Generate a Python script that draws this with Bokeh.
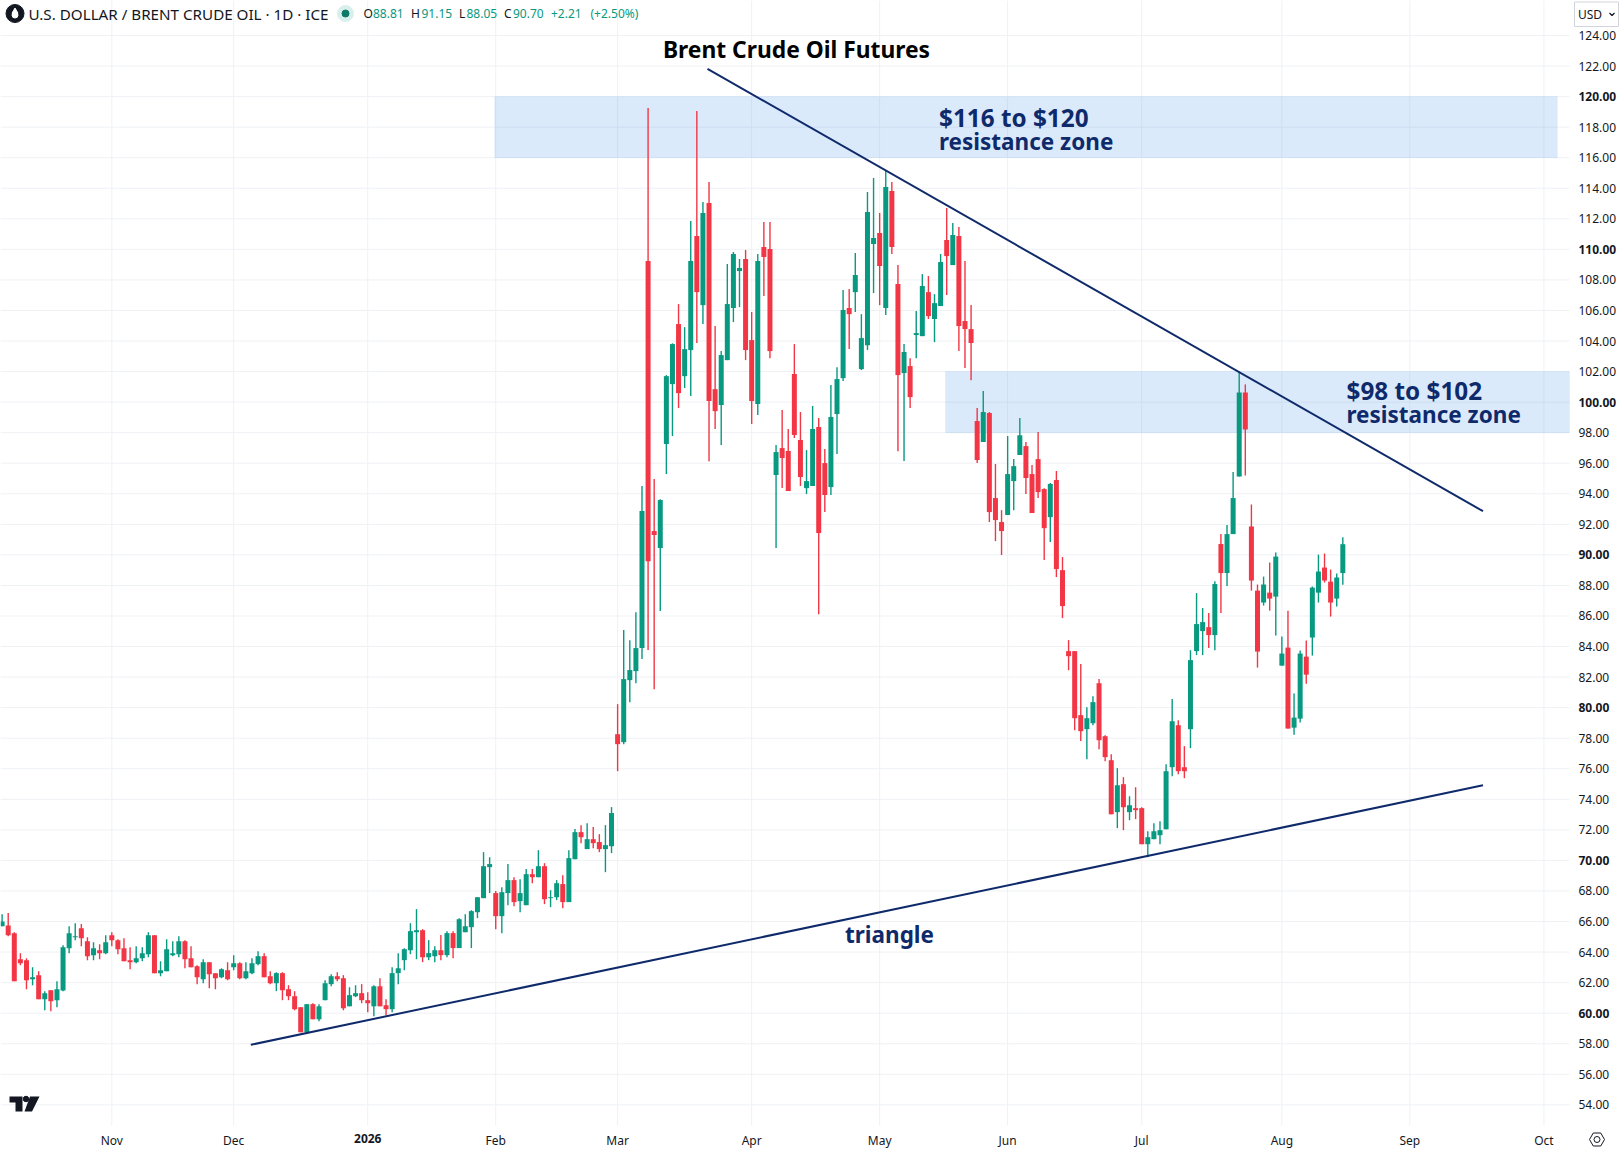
from bokeh.plotting import figure
from bokeh.models import Range1d, FixedTicker, Label, LinearAxis
from bokeh.embed import file_html
from bokeh.resources import INLINE

FONT = "Noto Sans"
GREEN = "#089981"
RED = "#F23645"
NAVY = "#0F2A6B"
INK = "#131722"
GRID = "#EFF1F5"

opens = [
65.69,65.74,65.24,63.53,63.47,62.22,62.49,60.91,61.50,60.85,
61.48,64.25,64.97,65.56,64.71,63.80,64.12,63.93,65.10,64.78,
64.25,63.47,63.34,63.60,63.86,65.10,62.62,62.75,63.80,63.86,
64.71,63.60,63.07,62.22,63.34,62.62,62.35,62.81,63.01,63.27,
62.29,62.62,63.21,63.73,62.42,61.96,62.62,61.57,61.11,60.39,
58.75,60.59,59.60,60.85,61.90,62.42,62.29,60.45,61.11,61.31,
60.85,60.45,61.76,60.52,60.26,62.62,63.47,64.12,65.30,65.43,
63.66,63.73,64.12,63.80,65.24,64.26,65.30,65.63,66.61,67.53,
69.56,67.86,66.35,67.86,68.71,67.33,67.07,69.10,68.90,69.62,
67.53,67.59,68.45,67.27,70.08,71.85,70.74,71.39,71.20,70.74,
70.93,78.26,77.74,81.80,82.39,83.90,109.24,91.56,90.45,97.26,
101.18,105.11,101.70,103.41,110.87,106.35,113.04,100.85,99.81,102.75,
106.16,108.58,109.37,104.06,99.87,110.15,110.02,95.23,96.99,96.80,
101.84,97.52,94.37,94.51,98.37,96.01,94.44,99.22,101.57,106.16,
107.20,102.16,103.73,110.35,111.07,106.16,113.82,107.73,101.90,102.36,
104.39,104.32,107.20,105.44,106.29,110.61,108.97,110.87,105.31,104.78,
98.76,97.39,99.29,93.72,92.15,92.61,94.83,96.54,97.12,95.29,
96.27,94.31,92.47,94.90,89.00,83.70,83.70,79.51,78.59,78.98,
81.60,78.13,76.56,73.16,74.99,73.16,73.42,73.42,71.06,71.39,
71.65,72.04,76.10,78.85,76.10,78.59,83.70,85.01,85.27,84.75,
90.71,88.81,91.36,95.13,100.63,91.86,87.66,86.88,87.53,87.27,
82.75,83.93,78.69,79.28,83.34,84.59,87.53,89.17,88.25,87.14,
88.81,
]
highs = [
66.48,66.55,65.30,63.93,63.60,63.01,62.75,61.44,61.50,62.09,
64.45,65.69,65.89,65.83,64.97,64.65,64.52,65.10,65.30,64.84,
64.91,64.32,64.38,64.32,65.30,65.10,63.40,64.84,64.71,65.04,
64.78,64.38,63.14,63.53,63.34,62.62,62.94,63.34,63.80,63.34,
63.34,63.60,64.06,63.93,62.75,62.68,62.68,61.83,61.44,60.39,
60.59,60.65,60.59,62.16,62.55,62.68,62.49,61.70,61.83,61.90,
61.37,61.83,62.29,60.91,63.01,63.93,64.25,65.89,66.81,65.50,
64.78,64.38,65.11,65.37,65.37,66.22,66.48,66.74,67.59,70.54,
70.21,67.99,68.25,69.76,68.90,68.77,69.43,69.43,70.67,69.82,
68.05,68.71,69.03,70.67,72.05,72.31,72.44,72.18,71.72,72.31,
73.49,80.23,85.08,84.42,86.25,94.51,119.26,94.96,93.65,101.77,
103.85,106.42,104.91,111.86,119.06,113.10,114.41,104.98,103.34,109.04,
109.83,109.37,109.96,105.90,109.70,111.79,111.79,97.19,99.48,98.24,
103.80,99.35,96.86,99.75,98.96,96.93,101.12,102.29,107.34,107.40,
109.76,105.76,113.75,114.67,112.38,115.20,114.41,108.97,103.80,102.88,
105.96,108.38,108.25,107.07,109.69,112.71,111.72,111.46,109.24,106.35,
99.61,100.73,99.35,95.95,92.93,97.78,96.27,98.96,97.39,95.88,
98.04,94.37,94.70,95.49,89.86,84.42,83.70,82.85,80.03,80.75,
81.87,78.20,76.95,76.04,75.45,74.20,74.79,73.48,71.91,72.44,
72.57,76.30,80.56,79.18,77.48,83.76,87.50,86.52,86.19,88.28,
91.36,91.95,95.42,101.99,101.16,93.30,88.06,88.58,89.50,90.15,
84.65,86.35,80.92,83.74,84.39,87.93,90.02,90.09,89.04,88.78,
91.15,
]
lows = [
65.69,65.04,62.09,63.14,61.57,61.83,60.91,60.19,60.13,60.39,
61.44,63.93,64.78,64.38,63.47,63.47,63.53,63.86,64.38,63.86,
63.40,62.88,63.27,63.40,63.66,62.62,62.42,62.75,63.73,63.66,
62.94,63.01,61.90,61.96,61.63,61.57,62.29,62.16,62.81,62.22,
62.22,62.55,63.14,62.35,61.90,61.44,60.85,60.85,60.19,58.75,
58.75,59.60,59.47,60.85,61.76,62.09,60.19,60.45,61.05,60.65,
60.06,59.80,60.45,59.87,60.06,61.90,62.81,63.86,63.53,63.34,
63.47,63.34,63.47,63.66,63.60,64.26,65.30,64.26,66.22,67.53,
67.86,65.50,65.24,67.07,67.00,66.61,67.07,68.51,68.90,67.14,
66.94,67.40,66.87,67.27,70.08,71.13,70.74,70.80,70.54,69.23,
70.48,75.84,77.61,80.36,81.60,83.18,83.77,81.21,86.32,95.29,
97.78,99.61,100.92,100.40,103.87,105.11,96.13,98.24,97.19,102.75,
105.24,106.22,102.75,98.57,99.16,106.94,102.88,90.45,94.38,94.18,
97.65,94.51,93.98,94.51,86.12,92.80,93.92,96.60,101.38,103.47,
105.90,102.10,103.41,107.14,106.35,105.70,109.70,96.79,96.14,99.61,
102.88,104.32,105.44,103.93,106.29,107.01,108.97,103.34,102.23,101.44,
96.01,97.39,92.15,90.90,89.99,92.61,92.93,96.54,93.98,92.74,
93.72,89.66,90.84,88.55,85.86,82.45,78.52,77.81,76.63,78.85,
77.28,76.49,73.02,72.11,71.98,72.63,72.70,71.06,70.21,71.39,
71.06,72.04,75.51,75.64,75.38,77.35,83.44,83.44,83.90,83.76,
86.19,87.96,91.36,95.13,95.20,87.66,82.62,86.68,86.35,84.72,
82.75,78.63,78.23,79.02,81.57,83.41,86.88,88.19,85.96,86.62,
88.05,
]
closes = [
66.00,65.10,62.09,63.27,62.16,62.35,60.91,61.31,60.78,61.57,
64.32,65.24,65.04,64.91,63.73,64.25,63.93,64.65,64.78,64.19,
63.40,63.34,63.60,63.93,65.10,62.62,62.81,64.19,63.93,64.71,
63.53,63.01,62.35,63.34,62.55,62.29,62.88,62.22,63.27,62.29,
62.75,63.27,63.73,62.35,61.96,62.62,61.50,61.11,60.26,58.75,
60.59,59.60,60.45,61.96,62.42,62.22,60.32,61.18,61.31,60.85,
60.65,61.76,60.45,60.26,62.62,62.94,64.19,65.37,65.43,63.66,
63.93,64.12,63.80,65.24,64.26,66.15,65.69,66.68,67.59,69.62,
69.76,66.35,67.92,68.71,67.27,67.86,69.10,68.90,69.62,67.46,
67.59,68.51,67.27,70.15,71.85,71.52,71.39,71.13,70.74,71.00,
73.10,77.61,81.87,82.46,83.90,92.87,89.59,91.30,93.59,101.70,
103.80,100.59,103.47,109.24,107.20,112.38,100.07,99.41,103.08,106.42,
109.70,108.78,103.41,100.07,109.24,109.50,103.34,96.73,96.34,94.18,
97.85,95.10,94.83,98.24,91.43,93.92,99.03,101.51,106.03,105.76,
108.32,104.19,112.45,110.74,108.91,114.08,110.15,101.77,103.28,100.33,
104.52,107.60,105.63,106.48,109.17,109.56,110.94,104.98,104.78,103.87,
96.21,99.35,92.80,92.28,91.56,95.29,95.81,97.83,95.03,92.74,
94.11,91.75,94.64,89.07,86.65,83.37,79.31,78.46,79.31,80.36,
77.87,76.76,73.02,74.92,73.48,73.61,73.29,71.06,71.52,71.91,
71.98,75.84,79.11,75.84,75.84,83.11,85.47,85.60,84.75,88.09,
88.81,91.36,93.72,100.63,98.21,88.32,83.67,88.06,87.14,89.89,
83.54,78.63,79.35,83.54,82.16,87.86,88.91,88.32,86.88,88.52,
90.70,
]
first_bar = -18

month_ticks = [0, 20, 42, 63, 83, 105, 126, 147, 169, 192, 213, 235]
month_labels = ["Nov", "Dec", "2026", "Feb", "Mar", "Apr", "May", "Jun", "Jul", "Aug", "Sep", "Oct"]
price_ticks = list(range(54, 126, 2))
bold_prices = [60, 70, 80, 90, 100, 110, 120]

zone_upper = dict(left=62.83, right=237.2, bottom=116, top=120)
zone_lower = dict(left=136.8, right=239.2, bottom=98, top=102)
falling_x, falling_y = [97.75, 225.0], [121.82, 92.86]
rising_x, rising_y = [22.81, 225.0], [57.93, 74.92]

X_LO, X_HI = -18.264, 247.73
Y_LO, Y_HI = 51.076, 126.291
W, H = 1621, 1149
PANE_W, PANE_H = 1569, 1125
TICK_SIZE = "12px"


def px_x(px):
    return X_LO + (X_HI - X_LO) * px / W


def px_y(py):
    return Y_HI - (Y_HI - Y_LO) * py / H


p = figure(width=W, height=H, output_backend="svg", toolbar_location=None,
           x_range=Range1d(X_LO, X_HI), y_range=Range1d(Y_LO, Y_HI),
           x_axis_type=None, y_axis_type=None,
           min_border_left=0, min_border_top=0, min_border_right=0, min_border_bottom=0,
           background_fill_color="white", border_fill_color="white")
p.outline_line_color = None

xax = LinearAxis(fixed_location=px_y(PANE_H), ticker=FixedTicker(ticks=month_ticks),
                 major_label_overrides={t: ("" if l == "2026" else l) for t, l in zip(month_ticks, month_labels)})
yax = LinearAxis(fixed_location=px_x(PANE_W), ticker=FixedTicker(ticks=price_ticks),
                 major_label_overrides={t: ("" if t in bold_prices else f"{t:.2f}") for t in price_ticks})
for ax in (xax, yax):
    ax.axis_line_color = None
    ax.major_tick_line_color = None
    ax.minor_tick_line_color = None
    ax.major_tick_in = 0
    ax.major_tick_out = 0
    ax.minor_tick_in = 0
    ax.minor_tick_out = 0
    ax.major_label_text_font = FONT
    ax.major_label_text_font_size = TICK_SIZE
    ax.major_label_text_color = INK
yax.major_label_standoff = 9
xax.major_label_standoff = 6
p.add_layout(xax, "below")
p.add_layout(yax, "right")

# grid panes stop at the scales, so they are drawn from the same tick lists
p.segment(x0=month_ticks, x1=month_ticks, y0=px_y(PANE_H), y1=Y_HI, line_color=GRID, line_width=1)
p.segment(x0=X_LO, x1=px_x(PANE_W), y0=price_ticks, y1=price_ticks, line_color=GRID, line_width=1)

for z in (zone_upper, zone_lower):
    p.quad(left=z["left"], right=z["right"], bottom=z["bottom"], top=z["top"],
           fill_color="#2B83E7", fill_alpha=0.17, line_color="#2B83E7", line_alpha=0.05)

xs = list(range(first_bar, first_bar + len(opens)))
colors = [GREEN if c >= o else RED for o, c in zip(opens, closes)]
p.segment(x0=xs, x1=xs, y0=lows, y1=highs, line_color=colors, line_width=1.4)
p.vbar(x=xs, width=0.82, bottom=[min(o, c) for o, c in zip(opens, closes)],
       top=[max(o, c) for o, c in zip(opens, closes)], fill_color=colors, line_color=None)

p.line(falling_x, falling_y, line_color=NAVY, line_width=2)
p.line(rising_x, rising_y, line_color=NAVY, line_width=2)


def label(text, px, py, size, color=INK, style="normal", align="left"):
    p.add_layout(Label(x=px_x(px), y=px_y(py), text=text, text_font=FONT, text_font_size=f"{size}px",
                       text_color=color, text_font_style=style, text_align=align, text_baseline="middle"))


for t in bold_prices:
    p.add_layout(Label(x=px_x(PANE_W + 9), y=t, text=f"{t:.2f}", text_font=FONT, text_font_size=TICK_SIZE,
                       text_color=INK, text_font_style="bold", text_align="left", text_baseline="middle"))
p.add_layout(Label(x=month_ticks[2], y=px_y(1138), text="2026", text_font=FONT, text_font_size=TICK_SIZE,
                   text_color=INK, text_font_style="bold", text_align="center", text_baseline="middle"))

label("Brent Crude Oil Futures", 796, 48.5, 22.8, "#000000", "bold", "center")
label("$116 to $120", 938.5, 116.5, 24.3, NAVY, "bold")
label("resistance zone", 938.5, 141, 22.5, NAVY, "bold")
label("$98 to $102", 1346, 389.5, 24.3, NAVY, "bold")
label("resistance zone", 1346, 414, 22.5, NAVY, "bold")
label("triangle", 889, 933.5, 22.5, NAVY, "bold", "center")

# header
label("U.S. DOLLAR / BRENT CRUDE OIL · 1D · ICE", 28, 13, 15.2)
p.scatter(x=[px_x(14.5)], y=[px_y(13)], size=18, color=INK)
p.scatter(x=[px_x(14.5)], y=[px_y(14.5)], size=6, color="white")
p.scatter(x=[px_x(14.5)], y=[px_y(11)], size=6, color="white", marker="triangle")
p.scatter(x=[px_x(345)], y=[px_y(13)], size=16, color="#D9EFEB")
p.scatter(x=[px_x(345)], y=[px_y(13)], size=7, color="#0B7A66")
for txt, px, col in [("O", 363, INK), ("88.81", 372.5, GREEN), ("H", 410.5, INK), ("91.15", 421, GREEN),
                     ("L", 458.5, INK), ("88.05", 466, GREEN), ("C", 503.5, INK), ("90.70", 512.5, GREEN),
                     ("+2.21", 550.5, GREEN), ("(+2.50%)", 590, GREEN)]:
    label(txt, px, 13, 12, col)

# USD selector
p.quad(left=[px_x(1574)], right=[px_x(1618)], top=[px_y(1.5)], bottom=[px_y(26)],
       fill_color="white", line_color="#D1D4DC", line_width=1)
label("USD", 1577.5, 14, 12)
p.line([px_x(v) for v in (1609, 1611.5, 1614)], [px_y(v) for v in (12.5, 15, 12.5)], line_color=INK, line_width=1.2)

# TradingView mark
LOGO = "#131722"
p.patch([px_x(v) for v in (9, 22, 22, 15, 15, 9)], [px_y(v) for v in (1096, 1096, 1111, 1111, 1102, 1102)],
        color=LOGO, line_color=None)
p.scatter(x=[px_x(25.5)], y=[px_y(1098.5)], size=5.5, color=LOGO)
p.patch([px_x(v) for v in (29.5, 39, 31.5, 24)], [px_y(v) for v in (1096, 1096, 1111, 1111)],
        color=LOGO, line_color=None)

# settings hexagon
cx, cy = 1596.5, 1139
p.scatter(x=[px_x(cx)], y=[px_y(cy)], size=15, marker="hex", fill_color="white", line_color=INK, line_width=1)
p.scatter(x=[px_x(cx)], y=[px_y(cy)], size=6, marker="circle", fill_color="white", line_color=INK, line_width=1)

open("out.html", "w").write(file_html(p, INLINE))
